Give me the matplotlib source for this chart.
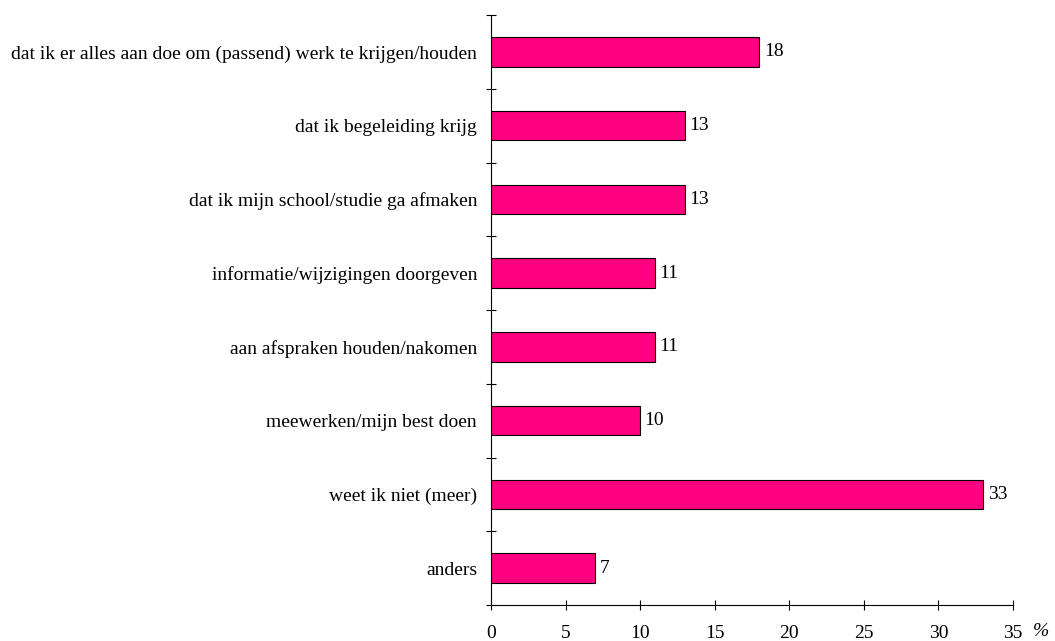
import matplotlib
matplotlib.use("Agg")
import matplotlib.pyplot as plt
import numpy as np

categories = [
    "dat ik er alles aan doe om (passend) werk te krijgen/houden",
    "dat ik begeleiding krijg",
    "dat ik mijn school/studie ga afmaken",
    "informatie/wijzigingen doorgeven",
    "aan afspraken houden/nakomen",
    "meewerken/mijn best doen",
    "weet ik niet (meer)",
    "anders",
]
values = [18, 13, 13, 11, 11, 10, 33, 7]
xticks = [0, 5, 10, 15, 20, 25, 30, 35]

plt.rcParams['font.family'] = ['Liberation Serif', 'DejaVu Serif']
FS = 14
fig = plt.figure(figsize=(10.55, 6.41), dpi=100)
ax = fig.add_axes([491/1055, 1-605/641, (1013-491)/1055, (605-15)/641])

n = len(categories)
pos = np.arange(n)[::-1]  # first category at top
ax.barh(pos, values, height=0.4, color='#FF0080', edgecolor='black', linewidth=0.8)
for p, v in zip(pos, values):
    ax.text(v + 0.3, p, str(v), va='center', ha='left', fontsize=FS)

ax.set_ylim(-0.5, n - 0.5)
ax.set_xlim(0, 35)
ax.set_yticks(np.arange(-0.5, n, 1.0))
ax.set_yticklabels([])
ax.set_yticks(pos, minor=True)
ax.set_yticklabels(categories, minor=True, fontsize=FS)
ax.tick_params(axis='y', which='major', direction='inout', length=7, width=0.8)
ax.tick_params(axis='y', which='minor', length=0, pad=10)
ax.set_xticks(xticks)
ax.set_xticklabels([str(t) for t in xticks], fontsize=FS)
ax.tick_params(axis='x', direction='inout', length=7, width=0.8, pad=11)
for s in ['top', 'right']:
    ax.spines[s].set_visible(False)
for s in ['left', 'bottom']:
    ax.spines[s].set_linewidth(0.8)
fig.text(1041/1055, 1-631/641, '%', fontsize=FS, style='italic', ha='center', va='center')

fig.savefig('out.png', dpi=100)
